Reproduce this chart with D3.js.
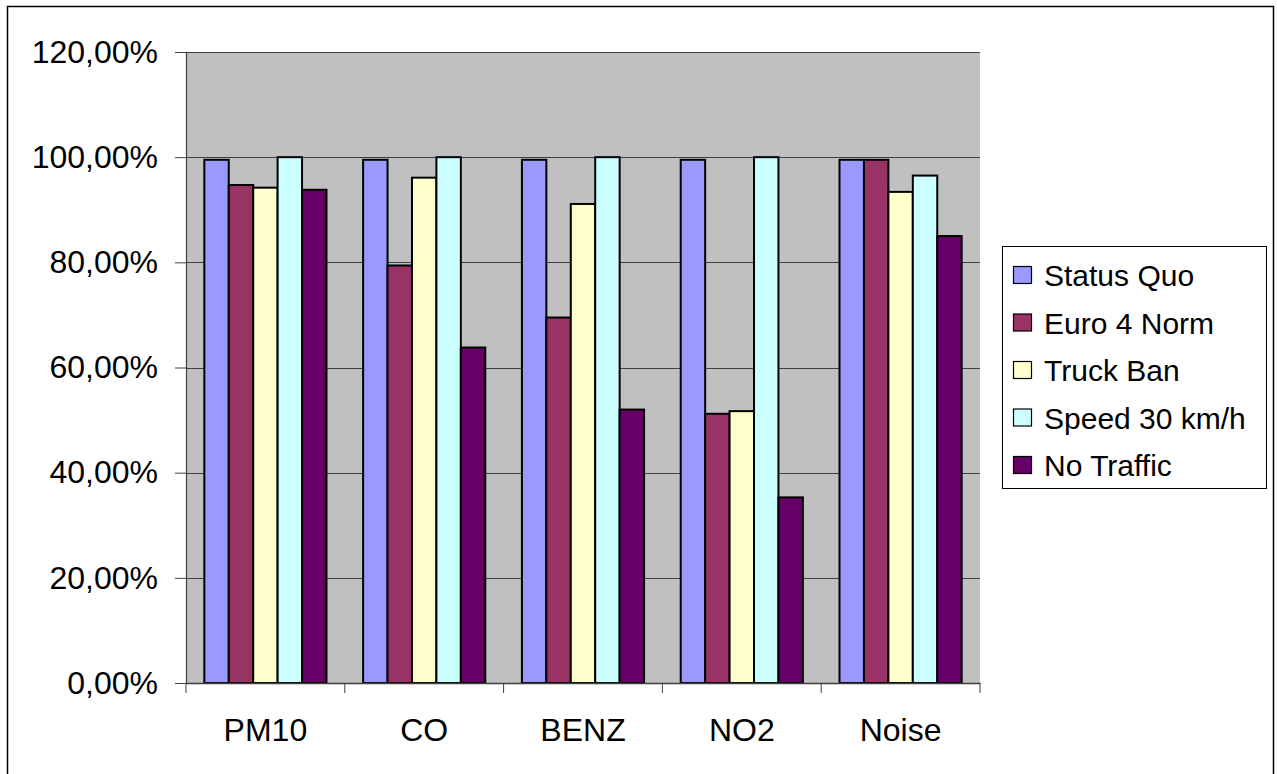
<!DOCTYPE html>
<html>
<head>
<meta charset="utf-8">
<script src="https://cdn.jsdelivr.net/npm/d3@7"></script>
<style>
  html, body { margin: 0; padding: 0; background: #fff; }
  svg { display: block; font-family: "Liberation Sans", Arial, sans-serif; }
</style>
</head>
<body>
<svg id="chart" width="1277" height="774"></svg>
<script>
const categories = ["PM10", "CO", "BENZ", "NO2", "Noise"];
const seriesNames = ["Status Quo", "Euro 4 Norm", "Truck Ban", "Speed 30 km/h", "No Traffic"];
const statusQuo = [0.995, 0.995, 0.995, 0.995, 0.995];
const euro4Norm = [0.947, 0.794, 0.695, 0.512, 0.995];
const truckBan = [0.942, 0.961, 0.911, 0.517, 0.934];
const speed30 = [1.0, 1.0, 1.0, 1.0, 0.965];
const noTraffic = [0.938, 0.638, 0.520, 0.353, 0.850];
const seriesValues = [statusQuo, euro4Norm, truckBan, speed30, noTraffic];
const seriesColors = ["#9999FF", "#993366", "#FFFFCC", "#CCFFFF", "#660066"];
const yTicks = [0, 0.2, 0.4, 0.6, 0.8, 1.0, 1.2];
const yTickLabels = ["0,00%", "20,00%", "40,00%", "60,00%", "80,00%", "100,00%", "120,00%"];

const svg = d3.select("#chart");
const plot = { left: 186, right: 980, top: 52, bottom: 683 };

// outer frame
svg.append("rect").attr("x", 7.5).attr("y", 6.5).attr("width", 1266).attr("height", 800)
  .attr("fill", "#fff").attr("stroke", "#000").attr("stroke-width", 1.5);

const x = d3.scaleBand().domain(categories).range([plot.left, plot.right]).paddingInner(0).paddingOuter(0);
const xs = d3.scaleBand().domain(seriesNames).range([0, x.bandwidth()]).paddingInner(0).paddingOuter(0.75);
const y = d3.scaleLinear().domain([0, 1.2]).range([plot.bottom, plot.top]);

// plot background
svg.append("rect").attr("x", plot.left).attr("y", plot.top)
  .attr("width", plot.right - plot.left).attr("height", plot.bottom - plot.top)
  .attr("fill", "#C0C0C0");

// gridlines
svg.append("g").selectAll("line").data(yTicks.filter(d => d > 0)).join("line")
  .attr("x1", plot.left).attr("x2", plot.right)
  .attr("y1", d => Math.round(y(d)) + 0.5).attr("y2", d => Math.round(y(d)) + 0.5)
  .attr("stroke", "#404040").attr("stroke-width", 1);

// bars
seriesValues.forEach((vals, si) => {
  svg.append("g").selectAll("rect").data(vals).join("rect")
    .attr("x", (d, i) => x(categories[i]) + xs(seriesNames[si]))
    .attr("y", d => y(d))
    .attr("width", xs.bandwidth())
    .attr("height", d => y(0) - y(d))
    .attr("fill", seriesColors[si])
    .attr("stroke", "#000").attr("stroke-width", 2);
});

// y axis
const yAxis = d3.axisLeft(y).tickValues(yTicks).tickFormat((d, i) => yTickLabels[i]).tickSize(11).tickPadding(17);
const gy = svg.append("g").attr("transform", `translate(${plot.left},0)`).call(yAxis);
gy.select(".domain").attr("stroke", "#404040").attr("stroke-width", 1.2);
gy.selectAll(".tick line").attr("stroke", "#404040");
gy.selectAll("text").attr("font-size", 32).attr("fill", "#000").attr("font-family", "Liberation Sans, Arial, sans-serif");

// x axis
const gx = svg.append("g").attr("transform", `translate(0,${plot.bottom})`)
  .call(d3.axisBottom(x).tickSize(0).tickPadding(0).tickFormat(""));
gx.select(".domain").attr("stroke", "#404040").attr("stroke-width", 1.5);
const boundaries = categories.map(c => x(c)).concat([x(categories[categories.length - 1]) + x.bandwidth()]);
gx.selectAll("line.bnd").data(boundaries).join("line").attr("class", "bnd")
  .attr("x1", d => d).attr("x2", d => d).attr("y1", 0).attr("y2", 10)
  .attr("stroke", "#404040").attr("stroke-width", 1);
svg.append("g").selectAll("text").data(categories).join("text")
  .attr("x", d => x(d) + x.bandwidth() / 2)
  .attr("y", 741)
  .attr("text-anchor", "middle")
  .attr("font-size", 32)
  .attr("fill", "#000")
  .text(d => d);

// legend
const lg = svg.append("g");
lg.append("rect").attr("x", 1002.5).attr("y", 246.5).attr("width", 264).attr("height", 242)
  .attr("fill", "#fff").attr("stroke", "#000").attr("stroke-width", 1);
const legendY = d3.scalePoint().domain(seriesNames).range([275, 465]);
seriesNames.forEach((n, i) => {
  lg.append("rect").attr("x", 1013.5).attr("y", legendY(n) - 8.5).attr("width", 18).attr("height", 17)
    .attr("fill", seriesColors[i]).attr("stroke", "#000").attr("stroke-width", 1.2);
  lg.append("text").attr("x", 1044).attr("y", legendY(n) + 11)
    .attr("font-size", 30).attr("fill", "#000").text(n);
});
</script>
</body>
</html>
